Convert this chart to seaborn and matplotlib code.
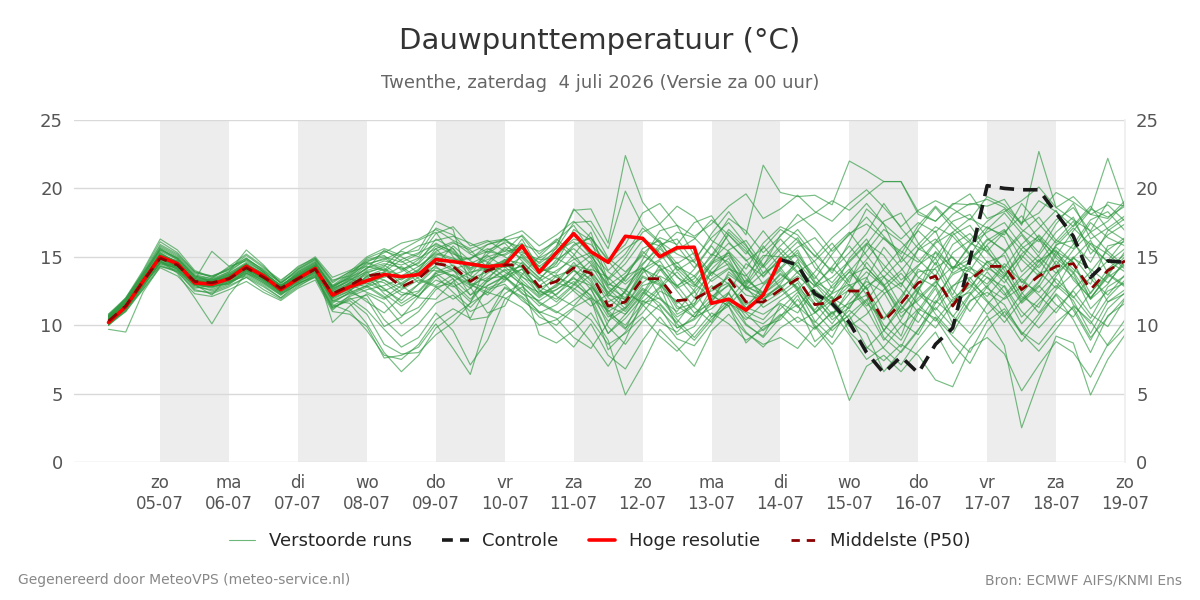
import numpy as np
import pandas as pd
import matplotlib
matplotlib.use("Agg")
import matplotlib.pyplot as plt
from matplotlib.lines import Line2D
import seaborn as sns

# time axis: 6-hourly steps from 04-07 06:00 to 19-07 00:00
start = "2026-07-04 06:00"
n_steps = 60

# hoge resolutie (ends 14-07 00:00)
hires = [10.2, 11.35, 13.2, 15.0, 14.5, 13.1, 13.0, 13.4, 14.3, 13.6, 12.6, 13.4, 14.15,
         12.2, 12.8, 13.25, 13.7, 13.55, 13.7, 14.8, 14.65, 14.47, 14.28, 14.4, 15.8, 13.87,
         15.3, 16.7, 15.37, 14.6, 16.5, 16.35, 15.0, 15.67, 15.7, 11.6, 11.9, 11.1, 12.2, 14.84]

# controle (visible from 14-07 00:00 onwards)
control = [14.8, 14.4, 12.3, 11.6, 10.2, 8.0, 6.5, 7.7, 6.5, 8.6, 9.8, 14.8, 20.2,
           20.0, 19.9, 19.9, 18.2, 16.5, 13.5, 14.7, 14.6]

# middelste (P50)
p50 = [10.3, 11.4, 13.2, 14.9, 14.4, 13.2, 13.1, 13.4, 14.2, 13.5, 12.7, 13.4, 14.1,
       12.3, 12.9, 13.6, 13.8, 12.8, 13.4, 14.5, 14.3, 13.2, 14.0, 14.4, 14.4, 12.8,
       13.2, 14.2, 13.8, 11.4, 11.7, 13.4, 13.4, 11.8, 11.9, 12.6, 13.4, 11.7, 11.7,
       12.6, 13.4, 11.5, 11.7, 12.5, 12.5, 10.3, 11.6, 13.1, 13.6, 11.4, 13.3, 14.3,
       14.3, 12.6, 13.6, 14.3, 14.5, 12.6, 14.0, 14.7]

# verstoorde runs (ensemble members)
members = [
    [10.5, 11.8, 13.6, 15.4, 14.8, 13.5, 13.2, 13.8, 14.6, 13.9, 12.9, 13.8, 14.5,
     12.0, 13.1, 14.0, 14.4, 13.5, 14.0, 15.1, 15.6, 14.2, 14.8, 15.2, 16.0, 13.8,
     14.6, 15.9, 16.4, 14.0, 15.2, 17.1, 16.0, 14.5, 15.3, 13.8, 14.9, 12.6, 13.1,
     14.2, 15.5, 13.2, 12.4, 14.9, 16.3, 14.0, 12.8, 15.6, 16.9, 14.1, 15.8, 17.2,
     16.4, 13.9, 15.1, 16.8, 17.9, 15.2, 16.6, 17.4],
    [10.0, 11.2, 12.9, 14.6, 14.1, 12.8, 12.6, 13.1, 13.9, 13.2, 12.3, 13.0, 13.7,
     11.5, 11.0, 9.6, 7.8, 7.5, 8.6, 10.4, 11.2, 10.5, 12.9, 13.6, 14.1, 12.2,
     12.6, 13.5, 12.1, 9.4, 10.8, 12.4, 11.6, 10.2, 11.9, 12.5, 13.1, 11.0, 10.4,
     11.8, 12.6, 10.3, 9.1, 11.5, 12.8, 9.6, 8.4, 10.9, 12.7, 10.1, 12.2, 13.5,
     12.8, 10.6, 11.9, 13.4, 12.1, 10.5, 12.8, 13.6],
    [10.8, 11.9, 13.9, 16.1, 15.3, 13.9, 13.5, 14.2, 14.9, 14.0, 13.1, 14.0, 14.8,
     12.9, 13.8, 14.7, 15.0, 14.6, 15.2, 17.1, 16.6, 15.3, 15.9, 16.3, 15.1, 14.0,
     15.7, 18.4, 18.5, 16.0, 22.4, 19.0, 17.4, 18.7, 17.9, 16.2, 15.4, 14.1, 16.0,
     17.2, 16.6, 15.0, 16.4, 17.5, 18.9, 17.4, 16.3, 17.5, 16.8, 18.1, 18.9, 18.7,
     19.2, 17.3, 22.7, 18.6, 19.4, 18.1, 18.8, 17.6],
    [10.4, 11.5, 13.3, 15.2, 14.6, 13.0, 12.2, 13.6, 14.5, 13.3, 12.5, 13.5, 14.0,
     12.5, 13.3, 13.9, 12.6, 11.8, 13.0, 14.2, 13.6, 12.7, 14.3, 14.7, 13.3, 12.1,
     13.0, 14.6, 13.2, 10.8, 9.7, 12.3, 14.4, 13.6, 12.0, 14.1, 15.3, 13.7, 11.9,
     13.0, 14.8, 11.9, 10.6, 12.7, 11.2, 8.9, 10.4, 12.5, 14.6, 12.2, 14.9, 15.8,
     14.0, 11.7, 13.1, 15.4, 14.6, 12.3, 14.1, 15.2],
    [9.7, 9.5, 12.4, 14.3, 14.0, 12.7, 12.9, 13.2, 13.6, 12.9, 12.0, 13.1, 13.5,
     11.1, 12.2, 12.8, 13.3, 12.4, 12.1, 13.6, 14.0, 13.1, 12.7, 13.2, 14.6, 13.5,
     12.1, 11.4, 12.8, 11.2, 12.5, 14.1, 13.5, 11.4, 10.6, 11.9, 13.7, 12.8, 11.3,
     12.1, 13.1, 10.9, 11.8, 13.6, 14.2, 12.9, 10.6, 12.0, 13.2, 11.7, 13.4, 14.6,
     15.1, 12.4, 10.9, 12.6, 13.8, 11.2, 12.5, 13.1],
    [10.6, 11.6, 13.4, 14.7, 13.8, 12.0, 10.1, 12.2, 13.8, 13.1, 12.2, 13.3, 14.3,
     10.2, 11.4, 12.3, 11.6, 10.1, 11.0, 12.6, 13.4, 10.4, 10.6, 12.8, 12.1, 11.0,
     10.5, 9.1, 8.3, 10.2, 12.6, 11.5, 10.2, 9.5, 10.8, 12.2, 11.4, 8.7, 9.9,
     10.4, 11.9, 10.0, 8.6, 10.3, 9.4, 6.6, 8.1, 9.7, 11.3, 9.9, 11.8, 12.4,
     11.5, 9.3, 10.8, 12.2, 10.4, 8.0, 10.7, 11.6],
    [10.2, 11.4, 13.1, 15.0, 14.2, 13.3, 15.4, 14.3, 14.7, 13.9, 12.8, 13.9, 14.6,
     12.8, 13.5, 14.1, 15.5, 14.7, 13.8, 15.0, 14.6, 14.9, 15.4, 15.1, 15.8, 14.5,
     15.4, 16.1, 14.9, 12.8, 12.0, 13.8, 14.7, 12.9, 13.6, 15.0, 16.6, 15.4, 14.2,
     15.6, 14.3, 12.8, 13.5, 14.7, 16.0, 15.1, 13.3, 14.4, 15.3, 13.8, 14.6, 16.2,
     17.0, 14.8, 13.6, 15.9, 16.2, 13.9, 15.5, 16.4],
    [10.3, 11.3, 13.0, 14.5, 14.2, 13.4, 13.2, 13.3, 14.0, 13.6, 12.6, 13.2, 13.9,
     11.8, 11.6, 10.1, 8.0, 6.6, 7.8, 9.8, 10.7, 11.6, 14.6, 13.9, 13.0, 12.4,
     13.6, 14.1, 12.6, 10.6, 11.3, 13.5, 12.9, 9.8, 10.5, 12.7, 13.5, 12.2, 11.9,
     12.9, 11.4, 10.2, 11.7, 12.9, 13.5, 11.0, 9.2, 12.5, 15.4, 14.2, 14.8, 16.3,
     15.5, 13.1, 14.4, 15.7, 14.6, 11.9, 13.8, 15.0],
    [10.5, 11.6, 13.5, 15.6, 14.9, 13.6, 13.4, 13.9, 15.5, 14.4, 13.0, 14.1, 14.9,
     13.1, 13.9, 14.3, 14.0, 15.2, 15.5, 17.6, 17.0, 12.8, 10.9, 11.4, 13.7, 15.0,
     16.2, 17.3, 15.4, 12.1, 13.4, 15.6, 16.2, 14.1, 12.9, 14.4, 16.8, 15.6, 13.5,
     14.9, 16.1, 14.6, 12.7, 13.9, 15.4, 17.0, 16.1, 14.8, 13.6, 15.9, 16.7, 15.3,
     14.2, 15.9, 17.1, 18.4, 16.0, 14.6, 16.9, 17.8],
    [10.1, 11.1, 12.8, 14.8, 14.4, 13.1, 12.9, 13.0, 13.9, 13.4, 12.4, 13.1, 13.8,
     12.4, 12.9, 13.4, 13.1, 12.2, 12.5, 13.9, 14.4, 13.6, 13.2, 14.0, 14.3, 12.5,
     11.9, 13.0, 14.4, 12.4, 11.2, 12.9, 13.3, 11.2, 11.6, 13.4, 14.2, 12.6, 11.9,
     12.6, 13.9, 12.1, 10.4, 11.3, 12.9, 13.6, 11.4, 10.2, 12.1, 13.7, 14.3, 12.7,
     11.9, 12.8, 14.7, 15.5, 13.3, 12.0, 13.5, 14.4],
    [10.4, 11.4, 13.0, 14.3, 13.9, 12.5, 12.4, 12.9, 13.5, 12.6, 11.9, 12.8, 13.6,
     11.2, 12.0, 11.1, 9.7, 8.4, 9.1, 10.9, 9.6, 7.1, 8.9, 11.9, 12.8, 11.7,
     11.0, 10.3, 8.8, 7.0, 8.9, 11.8, 11.1, 9.8, 10.4, 11.5, 12.4, 10.1, 9.1,
     10.6, 12.2, 9.8, 10.9, 11.6, 12.2, 10.0, 8.9, 11.1, 12.9, 10.6, 12.3, 13.9,
     12.4, 10.1, 11.6, 12.9, 11.8, 9.4, 11.7, 12.6],
    [10.6, 11.7, 13.4, 15.1, 14.7, 13.3, 13.0, 13.6, 14.4, 13.8, 12.9, 13.6, 14.3,
     12.6, 13.4, 14.4, 14.9, 14.1, 14.5, 15.8, 15.2, 14.8, 15.9, 16.2, 16.5, 14.9,
     15.6, 17.5, 17.6, 15.6, 19.8, 17.3, 16.1, 15.2, 14.6, 16.7, 18.3, 16.6, 21.7,
     19.7, 19.4, 19.5, 18.8, 22.0, 21.3, 20.5, 20.5, 18.1, 17.6, 18.8, 19.6, 17.8,
     18.3, 19.1, 20.1, 18.6, 17.7, 16.9, 19.0, 18.7],
    [10.2, 11.2, 12.6, 14.2, 13.6, 12.3, 12.1, 12.6, 13.2, 12.4, 11.8, 12.7, 13.3,
     11.0, 10.8, 9.9, 7.6, 7.8, 8.4, 10.1, 8.3, 6.4, 10.5, 12.3, 13.1, 9.3,
     8.7, 9.6, 10.9, 8.9, 4.9, 7.1, 9.7, 8.4, 7.0, 9.6, 10.8, 9.4, 8.6,
     9.1, 8.3, 9.9, 8.2, 4.5, 7.0, 7.8, 6.6, 8.1, 9.5, 7.2, 9.1, 10.7,
     8.5, 2.5, 6.0, 9.2, 8.7, 4.9, 7.5, 9.3],
    [10.4, 11.5, 13.3, 15.3, 14.5, 13.1, 13.3, 13.7, 14.1, 13.4, 12.6, 13.6, 14.2,
     12.1, 12.7, 13.2, 13.5, 13.9, 14.6, 16.3, 15.6, 13.8, 14.4, 15.6, 14.9, 13.7,
     13.1, 12.7, 11.8, 9.4, 10.5, 12.0, 13.6, 12.9, 11.3, 10.2, 12.4, 14.5, 13.6,
     14.9, 15.1, 13.6, 12.0, 11.2, 13.4, 15.7, 14.2, 12.4, 11.6, 14.0, 15.2, 14.4,
     13.1, 14.9, 16.6, 15.3, 14.1, 13.0, 15.8, 16.1],
    [10.7, 11.9, 13.7, 15.8, 15.1, 13.8, 13.6, 14.0, 14.8, 14.1, 13.2, 14.3, 14.9,
     13.3, 13.6, 14.5, 14.8, 15.4, 15.0, 16.7, 17.2, 15.8, 16.2, 15.4, 16.6, 15.2,
     16.3, 15.2, 13.6, 11.7, 12.4, 14.8, 16.9, 17.3, 15.1, 13.6, 15.5, 16.2, 14.4,
     15.8, 17.0, 15.4, 13.8, 16.1, 18.5, 17.4, 14.6, 15.9, 17.2, 16.5, 15.1, 17.0,
     18.2, 16.7, 15.3, 17.4, 18.9, 16.3, 17.1, 18.0],
    [10.1, 11.0, 12.7, 14.6, 14.3, 13.0, 12.7, 13.2, 13.8, 13.3, 12.5, 13.2, 13.9,
     11.9, 12.5, 13.6, 12.3, 11.4, 12.2, 13.3, 12.8, 13.4, 14.5, 13.5, 12.6, 11.4,
     12.3, 13.2, 11.9, 8.2, 9.5, 11.4, 12.7, 13.9, 12.5, 10.6, 11.8, 13.3, 12.4,
     13.8, 12.7, 11.1, 12.9, 14.1, 12.2, 9.6, 11.5, 13.4, 14.9, 12.6, 11.0, 12.8,
     14.3, 12.1, 11.3, 13.6, 15.0, 13.4, 12.2, 13.7],
    [10.5, 11.6, 13.3, 15.0, 14.5, 13.2, 13.1, 13.5, 14.3, 13.6, 12.7, 13.5, 14.2,
     12.3, 12.8, 13.9, 14.2, 13.0, 13.7, 14.8, 14.1, 14.5, 15.1, 14.2, 15.0, 13.9,
     14.3, 15.8, 16.4, 14.7, 13.2, 14.5, 15.7, 16.8, 16.4, 15.1, 17.0, 15.8, 14.3,
     16.6, 17.5, 18.2, 19.1, 18.4, 19.5, 20.5, 20.5, 18.3, 17.6, 18.9, 18.8, 19.2,
     18.6, 17.4, 19.1, 18.3, 17.2, 18.5, 17.9, 18.7],
    [10.3, 11.3, 13.2, 14.9, 14.4, 13.3, 13.0, 13.4, 14.1, 13.5, 12.7, 13.4, 14.1,
     12.2, 13.0, 12.4, 11.9, 12.6, 13.3, 12.8, 11.9, 12.7, 13.8, 14.6, 13.5, 12.9,
     13.7, 12.5, 11.4, 12.3, 13.6, 14.2, 12.1, 10.6, 11.4, 12.9, 11.7, 10.4, 11.6,
     12.4, 13.3, 11.6, 10.1, 11.8, 13.2, 12.4, 10.2, 9.3, 11.6, 12.9, 13.5, 11.8,
     10.6, 12.3, 13.8, 14.2, 11.5, 10.1, 12.0, 13.3],
    [10.2, 11.4, 13.1, 14.7, 14.1, 13.0, 12.8, 13.3, 14.0, 13.3, 12.4, 13.2, 13.9,
     11.6, 12.4, 12.9, 12.1, 10.7, 11.3, 12.8, 13.1, 11.9, 13.2, 14.1, 12.9, 11.6,
     10.9, 11.8, 12.7, 9.9, 8.6, 10.3, 11.5, 10.1, 8.9, 10.4, 11.6, 10.9, 9.6,
     10.7, 11.5, 8.8, 9.9, 10.7, 8.4, 7.4, 8.6, 7.8, 6.0, 5.5, 8.3, 9.1,
     7.9, 5.2, 7.1, 8.8, 8.0, 6.2, 8.6, 10.4],
    [10.6, 11.7, 13.5, 15.3, 14.6, 13.4, 13.3, 13.8, 14.5, 13.7, 12.8, 13.7, 14.4,
     12.7, 13.2, 14.2, 14.7, 14.4, 14.9, 15.6, 16.1, 15.2, 14.6, 15.7, 15.3, 14.8,
     14.9, 14.2, 15.1, 13.3, 14.5, 16.2, 15.8, 14.0, 14.8, 16.4, 17.5, 15.9, 13.8,
     14.6, 15.7, 16.4, 14.9, 13.1, 15.9, 17.6, 18.2, 16.0, 14.4, 16.6, 17.3, 15.5,
     13.6, 15.2, 16.3, 14.4, 15.9, 17.7, 18.3, 16.9],
    [10.0, 11.1, 12.9, 14.5, 14.0, 12.9, 12.8, 13.1, 13.7, 13.0, 12.2, 13.0, 13.6,
     11.4, 12.1, 12.6, 12.9, 13.4, 13.7, 14.3, 13.4, 12.2, 12.9, 13.5, 12.3, 11.8,
     12.6, 13.4, 12.9, 11.4, 10.8, 12.2, 14.0, 14.6, 13.0, 12.1, 12.9, 11.5, 12.4,
     13.7, 12.8, 11.5, 12.3, 13.0, 11.6, 10.4, 12.1, 13.9, 14.1, 12.0, 12.8, 14.2,
     13.4, 11.6, 12.8, 14.7, 13.5, 11.9, 13.0, 14.8],
    [10.8, 12.0, 13.8, 15.5, 14.9, 13.6, 13.2, 13.7, 14.4, 13.7, 12.9, 13.7, 14.5,
     12.9, 13.4, 13.0, 13.9, 14.8, 15.3, 15.9, 15.4, 14.0, 15.0, 15.4, 15.6, 14.3,
     15.2, 16.3, 15.9, 14.5, 15.6, 16.4, 15.3, 13.5, 12.8, 14.6, 15.3, 13.0, 14.9,
     16.3, 14.9, 13.4, 15.2, 16.7, 17.4, 16.3, 15.4, 14.6, 16.1, 17.6, 18.1, 16.4,
     15.4, 16.8, 17.9, 16.2, 15.6, 17.5, 16.4, 15.8],
    [10.3, 11.2, 13.0, 14.8, 14.3, 13.2, 13.0, 13.3, 14.1, 13.4, 12.6, 13.3, 14.0,
     12.4, 12.6, 11.7, 10.9, 12.1, 13.0, 13.6, 12.4, 11.3, 12.6, 13.0, 11.8, 10.9,
     11.5, 12.6, 13.7, 12.0, 11.0, 12.6, 11.3, 9.3, 9.9, 11.8, 13.0, 11.3, 10.8,
     11.6, 10.9, 12.6, 11.4, 9.9, 10.8, 12.3, 13.1, 11.5, 10.3, 11.9, 12.4, 10.8,
     12.0, 13.4, 12.2, 10.9, 12.6, 13.9, 11.7, 12.3],
    [10.5, 11.5, 13.2, 15.1, 14.7, 13.5, 13.3, 13.5, 14.3, 13.8, 12.9, 13.6, 14.4,
     12.8, 13.7, 14.9, 15.4, 15.0, 14.3, 15.3, 14.9, 14.4, 14.1, 14.8, 14.5, 13.2,
     14.0, 14.8, 15.3, 13.9, 13.0, 14.1, 14.8, 15.5, 16.3, 17.7, 16.6, 15.2, 16.9,
     15.3, 13.9, 14.7, 16.0, 14.3, 12.6, 14.1, 15.6, 16.9, 15.7, 14.1, 15.9, 16.8,
     17.5, 15.8, 14.6, 16.2, 17.6, 15.6, 14.7, 16.3],
    [10.1, 11.3, 13.0, 14.6, 14.1, 12.9, 12.5, 13.0, 13.8, 13.1, 12.3, 13.0, 13.7,
     11.3, 11.8, 10.8, 8.6, 7.9, 8.0, 9.3, 10.2, 11.6, 12.4, 12.0, 11.3, 10.0,
     10.4, 11.3, 12.0, 11.1, 9.8, 10.9, 12.5, 11.8, 10.6, 11.2, 12.3, 10.6, 10.1,
     11.2, 12.4, 11.0, 9.6, 10.8, 11.9, 9.1, 8.0, 9.6, 11.8, 10.7, 9.4, 11.5,
     12.9, 11.0, 9.8, 11.2, 12.5, 10.8, 9.9, 11.9],
    [10.6, 12.0, 14.0, 16.3, 15.5, 14.0, 13.5, 14.1, 15.1, 14.2, 13.3, 14.2, 15.0,
     13.5, 14.0, 14.6, 15.3, 16.0, 16.3, 17.0, 16.2, 15.6, 16.1, 16.3, 15.4, 14.6,
     15.8, 18.5, 17.2, 14.9, 13.9, 15.2, 16.4, 15.9, 17.5, 18.0, 16.1, 14.7, 15.6,
     17.0, 16.2, 15.1, 14.0, 15.3, 16.7, 18.9, 17.1, 15.6, 14.9, 16.8, 17.8, 17.1,
     16.6, 18.9, 17.4, 16.0, 17.3, 18.7, 17.0, 16.2],
    [10.2, 11.4, 13.2, 14.9, 14.3, 13.0, 13.0, 13.4, 14.2, 13.5, 12.6, 13.5, 14.2,
     12.0, 12.8, 13.5, 13.9, 12.9, 12.0, 11.9, 13.2, 13.9, 14.1, 13.3, 14.1, 12.8,
     12.2, 13.6, 14.7, 12.7, 11.5, 13.1, 14.1, 12.5, 10.9, 11.6, 13.9, 12.8, 12.3,
     13.2, 14.4, 12.3, 10.8, 12.3, 14.6, 13.0, 11.1, 12.7, 14.2, 15.0, 13.2, 12.1,
     13.6, 15.1, 13.9, 12.7, 14.9, 16.2, 13.8, 12.9],
    [10.4, 11.5, 13.3, 15.0, 14.4, 13.1, 12.9, 13.4, 14.2, 13.6, 12.7, 13.3, 14.0,
     12.3, 13.0, 13.7, 13.3, 12.7, 13.5, 14.6, 14.0, 13.4, 13.9, 14.3, 13.1, 12.0,
     12.9, 14.0, 13.0, 10.9, 10.0, 11.6, 12.0, 10.4, 9.1, 10.6, 11.4, 9.5, 8.4,
     9.8, 10.6, 9.7, 11.0, 9.3, 7.5, 8.4, 9.9, 11.2, 10.5, 8.6, 7.2, 9.6,
     11.0, 9.4, 8.1, 9.7, 11.4, 10.3, 8.5, 9.8],
    [10.3, 11.6, 13.4, 15.2, 14.6, 13.3, 13.2, 13.6, 14.4, 13.6, 12.8, 13.6, 14.3,
     12.5, 13.1, 13.8, 14.3, 15.5, 16.2, 16.8, 15.0, 13.6, 15.5, 16.0, 14.7, 13.4,
     14.5, 17.0, 16.2, 12.9, 13.8, 15.1, 14.3, 12.7, 13.4, 15.2, 14.6, 13.1, 15.8,
     14.2, 12.6, 13.9, 15.6, 16.8, 15.1, 13.5, 14.8, 17.0, 18.6, 17.1, 16.0, 15.4,
     16.8, 18.0, 16.3, 15.1, 16.9, 18.4, 22.2, 18.6],
    [10.4, 11.3, 13.1, 14.8, 14.2, 13.1, 13.1, 13.2, 14.0, 13.5, 12.6, 13.4, 14.1,
     12.1, 12.6, 13.1, 12.5, 13.1, 13.9, 14.0, 13.6, 12.9, 13.5, 14.4, 13.8, 12.7,
     13.3, 14.4, 14.0, 12.2, 11.9, 13.6, 13.0, 11.6, 12.4, 13.8, 14.5, 12.9, 12.1,
     12.8, 13.6, 12.5, 11.7, 12.6, 13.9, 12.8, 10.9, 11.8, 13.1, 14.3, 13.9, 13.0,
     14.5, 13.2, 12.4, 13.8, 14.9, 14.1, 13.1, 14.6],
    [10.5, 11.7, 13.6, 15.7, 15.0, 13.7, 13.4, 14.3, 15.2, 14.3, 13.1, 13.9, 14.7,
     12.6, 13.3, 14.2, 14.5, 14.2, 13.1, 14.4, 15.8, 14.7, 14.0, 14.6, 16.3, 14.1,
     13.8, 15.1, 16.8, 13.2, 11.8, 13.9, 15.6, 14.3, 13.1, 14.7, 16.0, 14.8, 13.0,
     14.1, 15.3, 13.0, 11.5, 13.4, 14.8, 16.4, 15.0, 13.5, 12.8, 15.3, 16.2, 14.6,
     13.5, 15.6, 16.5, 14.9, 13.8, 16.0, 15.2, 14.1],
    [10.0, 11.0, 12.6, 14.4, 13.9, 12.6, 12.3, 12.8, 13.5, 12.8, 12.0, 12.9, 13.5,
     11.3, 11.9, 12.2, 10.4, 9.2, 10.1, 11.6, 12.2, 11.0, 11.6, 12.7, 12.0, 10.6,
     10.0, 11.2, 10.4, 8.6, 9.4, 10.6, 9.2, 8.1, 9.4, 10.9, 10.1, 8.9, 9.7,
     10.8, 9.6, 8.4, 9.8, 11.1, 10.0, 8.3, 7.1, 9.0, 10.6, 9.2, 8.0, 10.3,
     11.2, 9.5, 8.6, 10.2, 11.3, 9.1, 10.6, 12.0],
    [10.7, 11.8, 13.5, 15.5, 14.9, 13.6, 13.3, 13.9, 14.8, 13.9, 12.9, 13.8, 14.6,
     12.7, 13.6, 14.8, 15.1, 14.0, 14.8, 16.0, 15.3, 14.1, 15.2, 16.1, 15.7, 14.0,
     15.0, 16.6, 15.1, 13.4, 14.9, 16.8, 17.4, 15.8, 14.2, 15.9, 17.8, 16.9, 15.3,
     16.5, 18.1, 17.0, 15.4, 16.6, 17.9, 16.5, 15.2, 17.3, 18.7, 17.4, 16.2, 17.6,
     18.5, 17.0, 16.1, 17.7, 18.6, 16.8, 17.6, 18.9],
    [10.3, 11.5, 13.2, 15.0, 14.4, 13.0, 12.9, 13.4, 14.1, 13.5, 12.6, 13.4, 14.1,
     12.2, 12.9, 13.3, 12.7, 11.6, 12.4, 13.8, 12.9, 11.7, 13.3, 14.8, 13.6, 12.3,
     12.8, 14.0, 13.4, 11.0, 11.8, 14.2, 13.1, 10.8, 11.5, 13.9, 13.0, 11.2, 12.9,
     14.0, 12.5, 10.9, 12.4, 13.9, 12.7, 10.5, 11.9, 14.1, 13.3, 11.4, 12.6, 14.7,
     13.8, 11.9, 13.2, 15.1, 13.9, 12.0, 13.6, 15.4],
    [10.2, 11.3, 13.1, 14.9, 14.5, 13.3, 13.1, 13.5, 14.2, 13.4, 12.6, 13.4, 14.2,
     12.0, 12.5, 13.6, 14.1, 13.6, 14.3, 15.2, 14.8, 14.9, 15.6, 15.0, 14.2, 13.3,
     14.8, 15.6, 14.5, 13.0, 12.6, 14.4, 15.9, 16.3, 14.6, 13.2, 14.1, 13.6, 15.1,
     15.0, 13.8, 12.9, 14.3, 15.8, 14.2, 12.9, 14.0, 15.5, 16.3, 14.9, 14.0, 15.9,
     16.9, 15.5, 14.2, 15.8, 17.1, 15.9, 14.6, 15.6],
    [10.4, 11.6, 13.3, 15.1, 14.4, 13.2, 13.2, 13.5, 14.3, 13.7, 12.7, 13.5, 14.3,
     11.7, 12.4, 11.9, 9.9, 10.6, 12.1, 13.8, 14.1, 12.2, 13.4, 13.6, 12.4, 10.9,
     9.6, 8.4, 10.1, 7.8, 6.8, 8.9, 10.6, 9.0, 8.5, 10.1, 11.7, 10.0, 9.2,
     11.5, 10.2, 10.9, 12.1, 9.5, 8.3, 9.6, 11.2, 12.8, 10.8, 9.4, 11.7, 12.9,
     10.7, 8.8, 10.5, 12.3, 11.1, 8.9, 11.2, 12.4],
    [10.6, 11.8, 13.7, 15.6, 14.8, 13.4, 13.0, 13.7, 14.5, 13.8, 12.9, 13.7, 14.4,
     12.8, 13.5, 14.6, 14.0, 13.3, 14.1, 15.4, 16.0, 15.5, 14.2, 14.6, 15.9, 15.4,
     16.1, 14.9, 13.8, 12.4, 13.5, 15.4, 14.2, 12.8, 14.1, 15.8, 14.3, 12.7, 13.8,
     15.2, 16.4, 14.2, 13.1, 14.6, 15.9, 14.4, 13.0, 14.3, 16.0, 16.8, 15.2, 14.0,
     15.3, 16.6, 15.0, 13.8, 15.5, 16.8, 15.4, 14.3],
    [10.1, 11.2, 12.8, 14.7, 14.2, 13.0, 12.8, 13.1, 14.0, 13.2, 12.4, 13.2, 13.8,
     11.8, 12.3, 12.9, 13.6, 14.3, 13.4, 12.9, 13.7, 13.0, 12.4, 13.7, 14.4, 12.6,
     11.7, 12.9, 14.1, 13.5, 12.3, 11.7, 12.8, 14.3, 13.6, 12.2, 11.4, 12.9, 14.4,
     12.7, 11.3, 12.9, 14.2, 12.9, 11.4, 12.6, 13.8, 12.3, 11.1, 12.8, 14.2, 13.5,
     12.2, 13.6, 14.8, 13.1, 12.0, 13.5, 14.7, 13.9],
    [10.5, 11.4, 13.3, 15.1, 14.6, 13.2, 12.9, 13.6, 14.4, 13.7, 12.8, 13.6, 14.2,
     12.4, 13.1, 12.8, 12.0, 12.9, 14.0, 15.6, 14.3, 13.0, 12.2, 13.4, 15.2, 14.3,
     13.5, 13.0, 12.2, 10.3, 11.2, 12.7, 11.9, 11.0, 12.6, 14.5, 15.1, 13.4, 12.3,
     13.4, 14.6, 13.1, 11.9, 10.4, 11.8, 13.5, 12.6, 10.9, 9.8, 11.6, 13.0, 11.7,
     10.2, 11.8, 12.9, 11.5, 10.6, 12.4, 13.7, 12.8],
    [10.7, 11.9, 13.8, 15.9, 15.2, 13.9, 13.6, 14.1, 14.9, 14.0, 13.1, 14.1, 14.8,
     13.2, 13.9, 15.0, 15.6, 15.1, 15.8, 16.2, 16.5, 16.0, 15.3, 16.4, 16.9, 15.8,
     16.6, 17.6, 16.4, 14.8, 15.9, 18.2, 18.9, 17.3, 16.5, 17.4, 18.7, 19.6, 17.8,
     18.5, 19.5, 18.3, 17.6, 18.9, 19.9, 18.6, 17.2, 18.4, 19.1, 18.5, 17.7, 19.4,
     18.8, 17.5, 18.2, 19.7, 19.0, 18.1, 17.8, 19.1],
]

day_names = ["ma", "di", "wo", "do", "vr", "za", "zo"]  # Monday first, as pandas dayofweek

times = pd.date_range(start, periods=n_steps, freq="6h")

ens = pd.DataFrame(
    [(m, t, v) for m, row in enumerate(members) for t, v in zip(times, row)],
    columns=["member", "time", "value"],
)
df_hires = pd.DataFrame({"time": times[:len(hires)], "value": hires})
df_ctrl = pd.DataFrame({"time": times[len(hires) - 1:], "value": control})
df_p50 = pd.DataFrame({"time": times, "value": p50})

sns.set_theme(style="white")
plt.rcParams["font.family"] = ["DejaVu Sans"]

fig = plt.figure(figsize=(12, 6), dpi=100)
ax = fig.add_axes([0.0617, 0.23, 0.8758, 0.57])

# shaded alternate days
tick_days = pd.date_range("2026-07-05", "2026-07-19", freq="D")
for d in tick_days[::2][:-1]:
    ax.axvspan(d, d + pd.Timedelta(days=1), color="#ededed", lw=0, zorder=0)

ens_color = "#2e9940"
sns.lineplot(data=ens, x="time", y="value", units="member", estimator=None,
             color=ens_color, lw=0.85, alpha=0.65, legend=False, ax=ax, zorder=2)
sns.lineplot(data=df_ctrl, x="time", y="value", color="#1a1a1a", lw=2.6,
             ax=ax, zorder=3)
ax.lines[-1].set_dashes([4, 2.5])
sns.lineplot(data=df_hires, x="time", y="value", color="#ff0000", lw=2.6,
             ax=ax, zorder=4)
sns.lineplot(data=df_p50, x="time", y="value", color="#8b0000", lw=2.0,
             ax=ax, zorder=5)
ax.lines[-1].set_dashes([4, 3])

ax.set_xlim(pd.Timestamp("2026-07-03 18:00"), pd.Timestamp("2026-07-19 00:00"))
ax.set_ylim(0, 25)
ax.set_yticks([0, 5, 10, 15, 20, 25])
ax.set_xticks(tick_days)
ax.set_xticklabels([f"{day_names[d.dayofweek]}\n{d.strftime('%d-%m')}" for d in tick_days])
ax.set_xlabel("")
ax.set_ylabel("")
ax.grid(axis="y", color="#d9d9d9", lw=1)
ax.set_axisbelow(True)
for s in ["top", "left", "bottom"]:
    ax.spines[s].set_visible(False)
ax.spines["right"].set_color("#eeeeee")
ax.tick_params(axis="y", length=0, labelsize=13, labelcolor="#555555",
               labelleft=True, labelright=True, pad=8)
ax.tick_params(axis="x", length=6, width=1.5, color="#666666", labelsize=12,
               labelcolor="#555555", pad=3)

fig.text(0.5, 0.932, "Dauwpunttemperatuur (°C)", ha="center", va="center",
         fontsize=21, color="#333333")
fig.text(0.5, 0.861, "Twenthe, zaterdag  4 juli 2026 (Versie za 00 uur)", ha="center",
         va="center", fontsize=13, color="#666666")

handles = [
    Line2D([], [], color=ens_color, lw=0.8, alpha=0.7),
    Line2D([], [], color="#1a1a1a", lw=2.6, dashes=[3, 2]),
    Line2D([], [], color="#ff0000", lw=2.6),
    Line2D([], [], color="#8b0000", lw=2.0, dashes=[3, 2.5]),
]
labels = ["Verstoorde runs", "Controle", "Hoge resolutie", "Middelste (P50)"]
fig.legend(handles, labels, loc="center", bbox_to_anchor=(0.5, 0.098), ncol=4,
           frameon=False, fontsize=13, handlelength=1.45, handletextpad=0.75,
           columnspacing=1.7)

fig.text(0.015, 0.033, "Gegenereerd door MeteoVPS (meteo-service.nl)", ha="left",
         va="center", fontsize=10, color="#888888")
fig.text(0.985, 0.033, "Bron: ECMWF AIFS/KNMI Ens", ha="right", va="center",
         fontsize=10, color="#888888")

fig.savefig("out.png", dpi=100)
